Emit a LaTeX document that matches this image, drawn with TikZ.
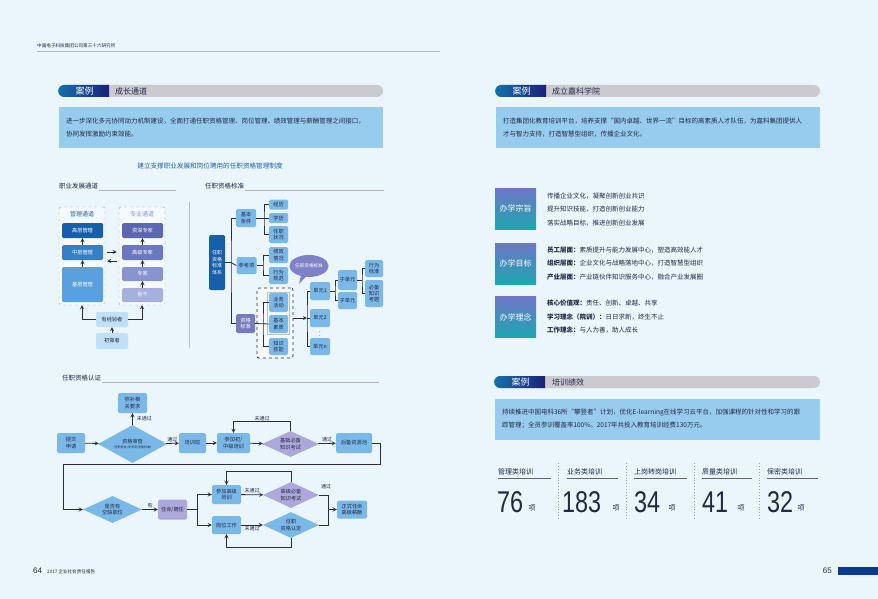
\documentclass[tikz,border=0pt]{standalone}
\usepackage{fontspec}
\setmainfont{Noto Sans CJK SC}
\newfontfamily\numfont{Liberation Sans}
\usepackage{graphicx}
\usetikzlibrary{
  positioning, arrows.meta, calc,
  shapes.geometric, shapes.misc, shapes.callouts
}

\definecolor{bgc}{RGB}{234,245,252}
\definecolor{ink}{RGB}{35,40,70}
\definecolor{lineclr}{RGB}{45,45,55}
\definecolor{boxblue}{RGB}{122,184,232}
\definecolor{paleblue}{RGB}{192,224,246}
\definecolor{casebox}{RGB}{152,204,238}
\definecolor{barg}{RGB}{202,202,208}
\definecolor{barl}{RGB}{22,112,170}
\definecolor{barr}{RGB}{28,34,118}
\definecolor{navy}{RGB}{22,96,170}
\definecolor{midblue}{RGB}{52,128,196}
\definecolor{litblue}{RGB}{88,160,222}
\definecolor{pur1}{RGB}{92,102,178}
\definecolor{pur2}{RGB}{108,120,190}
\definecolor{pur3}{RGB}{136,148,208}
\definecolor{pur4}{RGB}{166,176,222}
\definecolor{lilac}{RGB}{172,168,220}
\definecolor{zigepur}{RGB}{120,122,192}
\definecolor{bubble}{RGB}{128,130,200}
\definecolor{titleblue}{RGB}{30,100,175}
\definecolor{sqtop}{RGB}{110,118,198}
\definecolor{sqbot}{RGB}{28,166,176}
\definecolor{footblue}{RGB}{12,56,146}

\tikzset{
  rule/.style={gray!60, line width=0.6pt},
  bar/.style={rounded rectangle, fill=barg, minimum height=12pt, inner sep=0pt},
  tagbox/.style={rounded rectangle, rounded rectangle right arc=none,
    left color=barl, right color=barr, text=white, minimum width=51pt,
    minimum height=12pt, inner sep=0pt, font=\fontsize{9}{9}\selectfont},
  bartxt/.style={anchor=west, inner sep=0pt, text=ink, font=\fontsize{8}{8}\selectfont},
  casetxt/.style={fill=casebox, text width=310pt, inner xsep=7pt,
    minimum height=41pt, align=left, text=ink, font=\fontsize{6.5}{13}\selectfont},
  sec/.style={anchor=west, inner sep=1pt, text=ink, font=\fontsize{6.5}{7}\selectfont},
  sm/.style={font=\fontsize{5.2}{6.2}\selectfont},
  box/.style={fill=boxblue, text=ink, align=center, inner sep=0.5pt,
    rounded corners=1.5pt, sm},
  wbox/.style={box, text=white},
  dia/.style={diamond, aspect=2.3, fill=boxblue, text=ink, align=center,
    inner sep=0pt, sm},
  grpbox/.style={draw=gray!70, dashed, fill={rgb,255:red,244;green,250;blue,254},
    rounded corners=2pt},
  arr/.style={-stealth, line width=0.8pt, draw=lineclr},
  ln/.style={line width=0.8pt, draw=lineclr},
  lbl/.style={inner sep=1pt, text=ink, font=\fontsize{5}{6}\selectfont},
  sq/.style={top color=sqtop, bottom color=sqbot, text=white,
    minimum width=41pt, minimum height=41pt, font=\fontsize{8}{8}\selectfont},
  info/.style={anchor=west, align=left, inner sep=0pt, text=ink,
    font=\fontsize{6.5}{13.5}\selectfont},
  coltxt/.style={anchor=west, inner sep=0pt, text=ink, font=\fontsize{7}{7}\selectfont},
  uline/.style={gray!80!black, line width=1.3pt},
  numtxt/.style={anchor=base west, inner sep=0pt, text=ink,
    font=\numfont\fontsize{30}{30}\selectfont},
  xiang/.style={anchor=base west, inner sep=0pt, text=ink, font=\fontsize{7}{7}\selectfont},
  colsep/.style={gray!70, dotted, line width=0.9pt}
}

\begin{document}
\begin{tikzpicture}[x=1pt,y=-1pt]
\fill[bgc] (0,0) rectangle (878,599);
\useasboundingbox (0,0) rectangle (878,599);

% header
\node[anchor=west, inner sep=0pt, text=ink, font=\fontsize{4.6}{5}\selectfont]
  (hdr) at (37,46) {中国电子科技集团公司第三十六研究所};
\draw[rule] (37,51) -- (440,51);

% case: growth channel
\node[bar, minimum width=324pt] (bar1) at (221,91) {};
\node[tagbox] (tag1) at (84.5,91) {案例};
\node[bartxt] (bart1) at (115,91) {成长通道};
\node[casetxt] (case1) at (221,127.5)
  {进一步深化多元协同动力机制建设，全面打通任职资格管理、岗位管理、绩效管理与薪酬管理之间接口，\\协同发挥激励约束效能。};
\node[text=titleblue, inner sep=0pt, font=\fontsize{6.6}{7}\selectfont]
  (ttl) at (210,166) {建立支撑职业发展和岗位聘用的任职资格管理制度};

% career channels
\node[sec] (sec1) at (58,186) {职业发展通道};
\draw[rule] (sec1.south east) -- ++(77,0);
\node[grpbox, minimum width=46pt, minimum height=98pt] (mgmt) at (82,256) {};
\node[grpbox, minimum width=46pt, minimum height=98pt] (prof) at (142,256) {};
\node[text=titleblue, inner sep=0pt, font=\fontsize{6}{6}\selectfont] (mgmtt) at (82,214) {管理通道};
\node[text=pur3, inner sep=0pt, font=\fontsize{6}{6}\selectfont] (proft) at (142,214) {专业通道};
\node[wbox, fill=navy, minimum width=41pt, minimum height=15pt] (gao) at (82.5,230.5) {高层管理};
\node[wbox, fill=midblue, minimum width=41pt, minimum height=15pt] (zhong) at (82.5,252.5) {中层管理};
\node[wbox, fill=litblue, minimum width=41pt, minimum height=35pt] (ji) at (82.5,284.5) {基层管理};
\node[wbox, fill=pur1, minimum width=41pt, minimum height=15pt] (zishen) at (142.5,230.5) {资深专家};
\node[wbox, fill=pur2, minimum width=41pt, minimum height=15pt] (gaoji) at (142.5,252.5) {高级专家};
\node[wbox, fill=pur3, minimum width=41pt, minimum height=14pt] (zhuanjia) at (142.5,274) {专家};
\node[wbox, fill=pur4, minimum width=41pt, minimum height=14pt] (gugan) at (142.5,295) {骨干};
\draw[arr] (zhong) -- (gao);
\draw[arr] (ji) -- (zhong);
\draw[arr] (gaoji) -- (zishen);
\draw[arr] (zhuanjia) -- (gaoji);
\draw[arr] (gugan) -- (zhuanjia);
\draw[arr] ($(mgmt.east)+(2,-4)$) -- ($(prof.west)+(-2,-4)$);
\draw[arr] ($(prof.west)+(-2,5)$) -- ($(mgmt.east)+(2,5)$);
\node[box, fill=paleblue, minimum width=32pt, minimum height=15pt] (youjy) at (112,319.5) {有经验者};
\node[box, fill=paleblue, minimum width=32pt, minimum height=16pt] (chuzuo) at (112,341) {初做者};
\draw[arr] (chuzuo) -- (youjy);
\draw[arr] (youjy.west) -| (mgmt.south);
\draw[arr] (youjy.east) -| (prof.south);
\draw[gray!50, line width=0.6pt] (189,202) -- (189,348);

% qualification standards
\node[sec] (sec2) at (204,186) {任职资格标准};
\draw[rule] (sec2.south east) -- ++(139,0);
\node[wbox, fill=navy, minimum width=16pt, minimum height=55pt, font=\fontsize{5}{6.5}\selectfont]
  (tixi) at (217,262.5) {任职\\资格\\标准\\体系};
\node[box, minimum width=20pt, minimum height=18pt] (jiben) at (246,218) {基本\\条件};
\node[box, minimum width=20pt, minimum height=17pt] (cankao) at (246.5,265.5) {参考项};
\node[wbox, fill=zigepur, minimum width=19pt, minimum height=19pt] (zige) at (245.5,323.5) {资格\\标准};
\coordinate (t1) at (231,262.5);
\draw[ln] (tixi.east) -- (t1);
\draw[ln] (jiben.west) -| (t1) |- (zige.west);
\draw[ln] (t1) -- (cankao.west);
\node[box, minimum width=19pt, minimum height=10pt] (jingli) at (278.5,204.5) {经历};
\node[box, minimum width=19pt, minimum height=10pt] (xueli) at (278.5,218) {学历};
\node[box, minimum width=19pt, minimum height=17pt] (renzhi) at (278.5,234.5) {任职\\状况};
\coordinate (b1) at (264,218);
\draw[ln] (jiben.east) -- (xueli.west);
\draw[ln] (jingli.west) -| (b1) |- (renzhi.west);
\node[box, minimum width=19pt, minimum height=16pt] (jixiao) at (278.5,255) {绩效\\情况};
\node[box, minimum width=19pt, minimum height=17pt] (xingwei) at (278.5,275.5) {行为\\规范};
\coordinate (b2) at (263,265.5);
\draw[ln] (cankao.east) -- (b2);
\draw[ln] (jixiao.west) -| (b2) |- (xingwei.west);
\node[grpbox, draw=lineclr, line width=0.7pt, minimum width=36pt, minimum height=70pt]
  (grp) at (275,323) {};
\draw[gray!50, line width=0.4pt] (267,292) rectangle (289.5,334);
\node[box, minimum width=19pt, minimum height=19pt] (yewu) at (278.5,302.5) {业务\\活动};
\node[box, minimum width=19pt, minimum height=18pt] (sushi) at (278.5,324) {基本\\素质};
\node[box, minimum width=19pt, minimum height=17pt] (zhishi) at (278.5,346.5) {知识\\技能};
\coordinate (b3) at (263,324);
\draw[ln] (zige.east) -- (sushi.west);
\draw[ln] (yewu.west) -| (b3) |- (zhishi.west);
\coordinate (b4) at (307,318);
\node[box, minimum width=20pt, minimum height=18pt] (dy1) at (320,291) {单元1};
\node[box, minimum width=20pt, minimum height=18pt] (dy2) at (320,318) {单元2};
\node[inner sep=0pt, text=ink, font=\fontsize{6}{6}\selectfont] (dots) at (320,333) {$\vdots$};
\node[box, minimum width=20pt, minimum height=17pt] (dyn) at (320,346.5) {单元n};
\draw[arr] ($(grp.east)+(0,-5)$) -- (b4);
\draw[ln] (dy1.west) -| (b4) |- (dyn.west);
\draw[ln] (b4) -- (dy2.west);
\node[ellipse callout, fill=bubble, text=white, inner sep=0pt,
  minimum width=36pt, minimum height=22pt, font=\fontsize{4.6}{5}\selectfont,
  callout absolute pointer={(299,284)}] (bub) at (309,266) {任职资格标准};
\node[box, minimum width=19pt, minimum height=20pt] (zi1) at (347.5,280) {子单元};
\node[box, minimum width=19pt, minimum height=17pt] (zi2) at (347.5,300.5) {子单元};
\coordinate (b5) at (335,291);
\draw[ln] (dy1.east) -- (b5);
\draw[ln] (zi1.west) -| (b5) |- (zi2.west);
\node[box, minimum width=18pt, minimum height=17pt] (xwbz) at (374,268.5) {行为\\标准};
\node[box, minimum width=18pt, minimum height=27pt] (bbzs) at (374,293.5) {必备\\知识\\考题};
\coordinate (b6) at (362,280);
\draw[ln] (zi1.east) -- (b6);
\draw[ln] (xwbz.west) -| (b6) |- (bbzs.west);

% qualification certification
\node[sec] (sec3) at (61,378) {任职资格认证};
\draw[rule] (sec3.south east) -- ++(277,0);
\node[box, minimum width=28pt, minimum height=20pt] (tijiao) at (71,443) {提交\\申请};
\node[dia, minimum width=69pt, minimum height=38pt] (shencha) at (132.5,444)
  {资格审查\\[-1pt]{\fontsize{3}{3.5}\selectfont（任职条件/参考项/资格标准）}};
\node[box, minimum width=29pt, minimum height=20pt] (mibu) at (132.5,403) {弥补相\\关要求};
\node[box, minimum width=27pt, minimum height=20pt] (pxb) at (192.5,443) {培训班};
\node[box, minimum width=33pt, minimum height=20pt] (chuzhong) at (233.5,443) {参加初/\\中级培训};
\node[dia, fill=lilac, minimum width=57pt, minimum height=26pt] (jichu) at (290.5,444) {基础必备\\知识考试};
\node[box, minimum width=36pt, minimum height=20pt] (houbei) at (354,443) {后备资源池};
\draw[arr] (tijiao) -- (shencha);
\draw[arr] (shencha) -- (mibu) node[lbl, midway, right=3pt] {未通过};
\draw[arr] (shencha) -- (pxb) node[lbl, midway, above] {通过};
\draw[arr] (pxb) -- (chuzhong);
\draw[arr] (chuzhong) -- (jichu);
\draw[arr] (jichu.north) -- ++(0,-9) -| node[lbl, pos=0.25, above] {未通过} (chuzhong.north);
\draw[arr] (jichu) -- (houbei) node[lbl, midway, above] {通过};
\coordinate (turn) at (63,464);
\draw[ln] (houbei.east) -- ++(8,0) |- (turn);
\node[dia, minimum width=59pt, minimum height=27pt] (kongque) at (112.5,509.5) {是否有\\空缺职位};
\draw[arr] (turn) |- (kongque.west);
\node[box, fill=lilac, minimum width=29pt, minimum height=20pt] (renming) at (172.5,509.5) {任命/聘任};
\draw[arr] (kongque) -- (renming) node[lbl, midway, above] {有};
\node[box, minimum width=29pt, minimum height=19pt] (gjpx) at (226.5,494.5) {参加高级\\培训};
\node[box, minimum width=29pt, minimum height=18pt] (gangwei) at (226.5,525) {岗位工作};
\coordinate (b7) at (197,509.5);
\draw[ln] (renming.east) -- (b7);
\draw[arr] (b7) |- (gjpx.west);
\draw[arr] (b7) |- (gangwei.west);
\node[dia, fill=lilac, minimum width=56pt, minimum height=26pt] (gjks) at (291,495) {高级必备\\知识考试};
\node[dia, minimum width=56pt, minimum height=26pt] (rending) at (291,525) {任职\\资格认定};
\draw[arr] (gjpx) -- (gjks) node[lbl, midway, above] {未通过};
\draw[arr] (gjks.north) -- ++(0,-10) -| (gjpx.north);
\draw[arr] (gangwei) -- (rending) node[lbl, midway, below] {未通过};
\draw[arr] (rending.south) -- ++(0,9) -| (gangwei.south);
\node[box, minimum width=30pt, minimum height=18pt] (zhengshi) at (352,509.5) {正式任命\\高级薪酬};
\coordinate (b8) at (328,509.5);
\draw[ln] (gjks.east) -| (b8);
\draw[ln] (rending.east) -| (b8);
\draw[arr] (b8) -- (zhengshi);
\node[lbl] (tg3) at (326,487) {通过};

% case: academy
\node[bar, minimum width=324pt] (bar2) at (658,91) {};
\node[tagbox] (tag2) at (521.5,91) {案例};
\node[bartxt] (bart2) at (552,91) {成立嘉科学院};
\node[casetxt] (case2) at (658,128)
  {打造集团化教育培训平台，培养支撑“国内卓越、世界一流”目标的高素质人才队伍，为嘉科集团提供人\\才与智力支持，打造智慧型组织，传播企业文化。};
\node[sq] (zongzhi) at (515.5,208.5) {办学宗旨};
\node[sq] (mubiao) at (515.5,263.5) {办学目标};
\node[sq] (linian) at (515.5,317) {办学理念};
\node[info] (zzt) at (547,209.5)
  {传播企业文化，凝聚创新创业共识\\提升知识技能，打造创新创业能力\\落实战略目标，推进创新创业发展};
\node[info] (mbt) at (547,263.5)
  {{\bfseries 员工层面：}素质提升与能力发展中心，塑造高效能人才\\
   {\bfseries 组织层面：}企业文化与战略落地中心，打造智慧型组织\\
   {\bfseries 产业层面：}产业链伙伴知识服务中心，融合产业发展圈};
\node[info] (lnt) at (547,317)
  {{\bfseries 核心价值观：}责任、创新、卓越、共享\\
   {\bfseries 学习理念（院训）：}日日求新，终生不止\\
   {\bfseries 工作理念：}与人为善，助人成长};

% case: training
\node[bar, minimum width=325pt] (bar3) at (657.5,382) {};
\node[tagbox] (tag3) at (520.5,382) {案例};
\node[bartxt] (bart3) at (552,382) {培训绩效};
\node[casetxt, text width=311pt] (case3) at (657.5,419)
  {持续推进中国电科36所“攀登者”计划，优化E-learning在线学习云平台，加强课程的针对性和学习的跟\\踪管理；全员参训覆盖率100\%。2017年共投入教育培训经费130万元。};
\node[coltxt] (lab1) at (498,472) {管理类培训};
\node[coltxt] (lab2) at (567,472) {业务类培训};
\node[coltxt] (lab3) at (634,472) {上岗转岗培训};
\node[coltxt] (lab4) at (702,472) {质量类培训};
\node[coltxt] (lab5) at (767,472) {保密类培训};
\draw[uline] (498,478.5) -- (551,478.5);
\draw[uline] (567,478.5) -- (618,478.5);
\draw[uline] (634,478.5) -- (687,478.5);
\draw[uline] (702,478.5) -- (752,478.5);
\draw[uline] (767,478.5) -- (818,478.5);
\node[numtxt] (num1) at (497,512) {\scalebox{0.78}[1]{76}};
\node[numtxt] (num2) at (562,512) {\scalebox{0.78}[1]{183}};
\node[numtxt] (num3) at (634,512) {\scalebox{0.78}[1]{34}};
\node[numtxt] (num4) at (702,512) {\scalebox{0.78}[1]{41}};
\node[numtxt] (num5) at (767,512) {\scalebox{0.78}[1]{32}};
\node[xiang] (x1) at ($(num1.base east)+(5,-2)$) {项};
\node[xiang] (x2) at ($(num2.base east)+(11,-2)$) {项};
\node[xiang] (x3) at ($(num3.base east)+(8,-2)$) {项};
\node[xiang] (x4) at ($(num4.base east)+(9,-2)$) {项};
\node[xiang] (x5) at ($(num5.base east)+(4,-2)$) {项};
\draw[colsep] (558,463) -- (558,520);
\draw[colsep] (626,463) -- (626,520);
\draw[colsep] (694,463) -- (694,520);
\draw[colsep] (759,463) -- (759,520);

% footer
\node[anchor=west, inner sep=0pt, text=ink, font=\numfont\fontsize{8}{8}\selectfont]
  (pg64) at (33,571) {64};
\node[anchor=west, inner sep=0pt, text=ink, font=\fontsize{4.6}{5}\selectfont]
  (rpt) at (47,571.5) {2017 企业社会责任报告};
\node[anchor=east, inner sep=0pt, text=ink, font=\numfont\fontsize{8}{8}\selectfont]
  (pg65) at (832,571) {65};
\fill[footblue] (838,567) rectangle (878,574.5);
\end{tikzpicture}
\end{document}
